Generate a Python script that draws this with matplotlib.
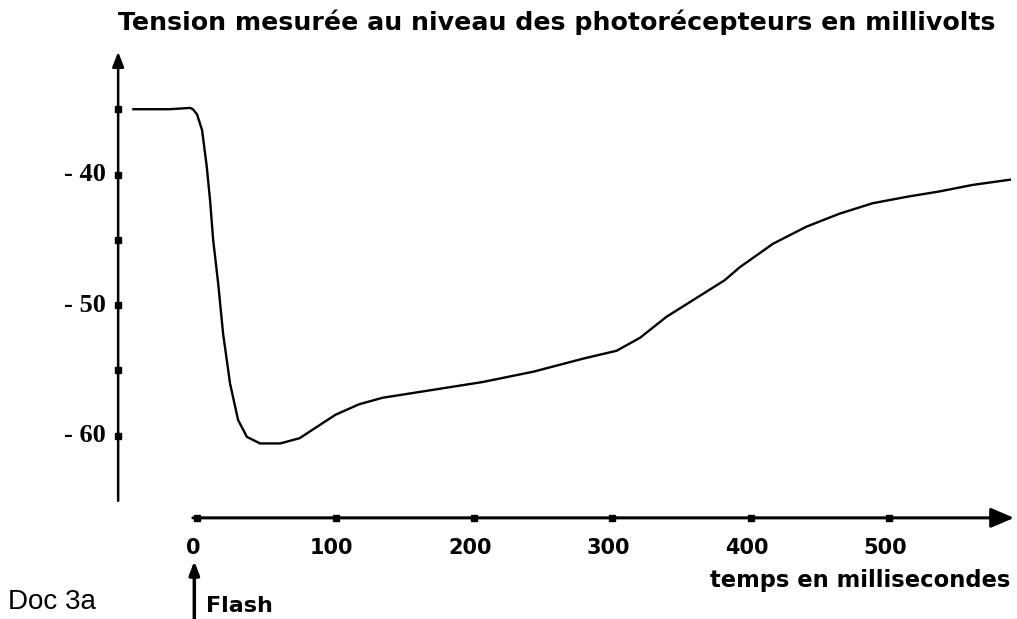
import matplotlib.pyplot as plt

# values
time_ms = [-46, -20, -5, -3, 0, 3.6, 7, 9.4, 11.6, 15.2, 18.8, 23.8, 29.6, 36,
           45.5, 60, 74, 87, 100, 117, 134, 170, 206, 243, 279, 303, 320, 339,
           363, 381, 392, 416, 440, 464, 488, 513, 536, 560, 587]
tension_mv = [-35.0, -35.0, -34.9, -35.0, -35.4, -36.6, -39.4, -42.0, -45.0,
              -48.3, -52.2, -56.0, -58.8, -60.1, -60.6, -60.6, -60.2, -59.3,
              -58.4, -57.6, -57.1, -56.5, -55.9, -55.1, -54.1, -53.5, -52.5,
              -50.9, -49.3, -48.1, -47.1, -45.3, -44.0, -43.0, -42.2, -41.7,
              -41.3, -40.8, -40.4]

x_ticks = [0, 100, 200, 300, 400, 500]
y_marks = [-35, -40, -45, -50, -55, -60]
y_labels = {-40: '- 40', -50: '- 50', -60: '- 60'}

W, H = 1017, 619


def fx(px):
    return px / W


def fy(py):
    return 1 - py / H


fig = plt.figure(figsize=(W / 100, H / 100), dpi=100)
ax = fig.add_axes([fx(114), fy(527), 900 / W, 470 / H])
ax.set_xlim(-60, 590)
ax.set_ylim(-67, -31)
ax.axis('off')

y_axis_t = -57
x_axis_v = -66.3

# curve
ax.plot(time_ms, tension_mv, color='black', lw=1.7, clip_on=False,
        solid_joinstyle='round')

# y axis with arrow
ax.annotate('', xy=(y_axis_t, -30.6), xytext=(y_axis_t, -65.0),
            arrowprops=dict(arrowstyle='-|>,head_length=0.9,head_width=0.35',
                            color='black', lw=1.8, shrinkA=0, shrinkB=0),
            annotation_clip=False)
ax.plot([y_axis_t] * len(y_marks), y_marks, 's', color='black', ms=5, clip_on=False)
for v, lab in y_labels.items():
    ax.text(y_axis_t - 9, v, lab, ha='right', va='center', fontsize=19,
            family='Liberation Serif', fontweight='bold')

# x axis with arrow
ax.annotate('', xy=(590, x_axis_v), xytext=(-3, x_axis_v),
            arrowprops=dict(arrowstyle='-|>,head_length=1.4,head_width=0.6',
                            color='black', lw=2.2, shrinkA=0, shrinkB=0),
            annotation_clip=False)
ax.plot(x_ticks, [x_axis_v] * len(x_ticks), 's', color='black', ms=4, clip_on=False)
for t in x_ticks:
    ax.text(t - 3, x_axis_v - 2.3, str(t), ha='center', va='center', fontsize=15,
            family='DejaVu Sans', fontweight='bold', clip_on=False)

# flash arrow
ax.annotate('', xy=(-2, -69.6), xytext=(-2, -74.2),
            arrowprops=dict(arrowstyle='-|>,head_length=0.8,head_width=0.3',
                            color='black', lw=2.5, shrinkA=0, shrinkB=0),
            annotation_clip=False)

fig.text(fx(118), fy(22), 'Tension mesurée au niveau des photorécepteurs en millivolts',
         ha='left', va='center', fontsize=18.2, fontweight='bold', family='DejaVu Sans')
fig.text(fx(1010), fy(580), 'temps en millisecondes', ha='right', va='center',
         fontsize=16.3, fontweight='bold', family='DejaVu Sans')
fig.text(fx(8), fy(602), 'Doc 3a', ha='left', va='center', fontsize=20,
         family='Liberation Sans')
fig.text(fx(206), fy(606), 'Flash', ha='left', va='center', fontsize=16,
         fontweight='bold', family='DejaVu Sans')

fig.savefig('out.png', dpi=100)
